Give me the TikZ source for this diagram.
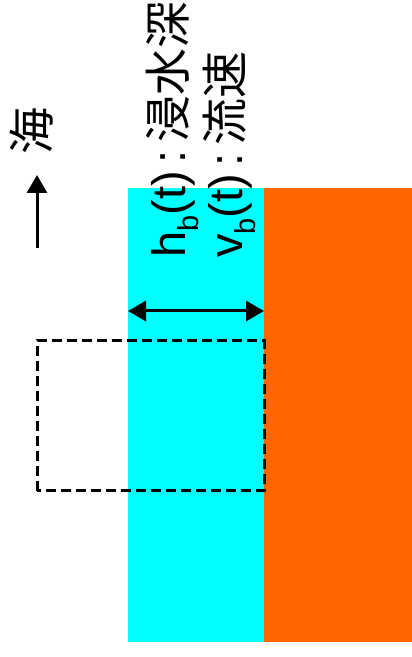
\documentclass[tikz,border=0pt]{standalone}
\usepackage{fontspec}
\setmainfont{Liberation Sans}
\newfontfamily\cjk{Noto Sans CJK JP}
\usetikzlibrary{arrows.meta}
\definecolor{water}{HTML}{00FFFF}
\definecolor{land}{HTML}{FF6600}
\tikzset{
  arr/.style={line width=3pt,-{Triangle[length=18pt,width=20pt]}},
  darr/.style={line width=3pt,{Triangle[length=18pt,width=20pt]}-{Triangle[length=18pt,width=20pt]}},
  lbl/.style={rotate=90,anchor=base west,inner sep=0pt,font=\fontsize{47}{47}\selectfont}
}
\newcommand{\mysub}[1]{\raisebox{-13pt}{\fontsize{29}{29}\selectfont #1}}
\begin{document}
\begin{tikzpicture}[x=1pt,y=1pt]
\useasboundingbox (0,0) rectangle (412,657);
\fill[water] (128,15) rectangle (264,469);
\fill[land] (264,15) rectangle (412,469);
\draw[line width=3pt,dash pattern=on 10pt off 5pt] (37,166) rectangle (264,316);
\coordinate (wl) at (128,346);
\coordinate (wr) at (264,346);
\draw[darr] (wl) -- (wr);
\coordinate (sa) at (37,409);
\coordinate (sb) at (37,482);
\draw[arr] (sa) -- (sb);
\node[rotate=90,inner sep=0pt,font=\fontsize{47}{47}\selectfont\cjk] (sea) at (32,526) {海};
\node[lbl] (hb) at (185,399) {h\mysub{b}(t)\,:\,{\cjk 浸水深}};
\node[lbl] (vb) at (242,399) {v\mysub{b}(t)\,:\,{\cjk 流速}};
\end{tikzpicture}
\end{document}
